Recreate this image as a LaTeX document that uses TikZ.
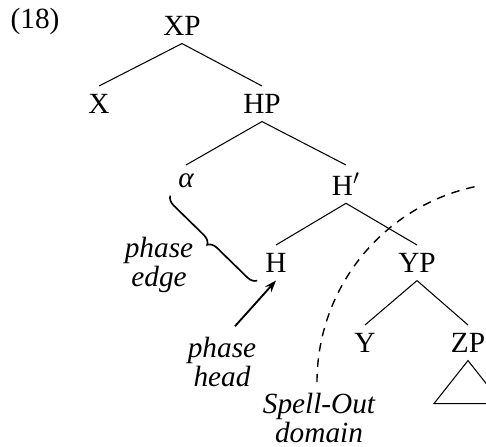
\documentclass[tikz,border=0pt]{standalone}
\usepackage{fontspec}
\setmainfont{Liberation Serif}
\usetikzlibrary{arrows.meta,decorations.pathreplacing}

\begin{document}
\begin{tikzpicture}[
  x=0.015cm, y=-0.015cm,
  every node/.style={inner sep=3.3pt, font=\fontsize{12.5}{12.5}\selectfont},
  cat/.style={anchor=north},
  note/.style={align=center, inner sep=1pt, font=\fontsize{12.5}{12.5}\selectfont\itshape},
  branch/.style={line width=0.45pt},
  arrow/.style={-{Stealth[length=5pt,width=3.6pt]}, line width=0.8pt},
  bracket/.style={decorate, decoration={brace, amplitude=4pt}, line width=0.7pt}
]
\clip (0,0) rectangle (486,447);

\node (num) at (35,21) {(18)};
\node[cat] (xp) at (182,8) {XP};
\node[cat] (x) at (99,86) {X};
\node[cat] (hp) at (262,86) {HP};
\node[cat] (alpha) at (186,165) {\itshape α};
\node[cat] (hbar) at (346,165) {H$'$};
\node[cat] (h) at (276,245) {H};
\node[cat] (yp) at (417,245) {YP};
\node[cat] (y) at (365,325) {Y};
\node[cat] (zp) at (468,325) {ZP};

\node[note] (phaseedge) at (159,265) {phase\\edge};
\node[note] (phasehead) at (222,362) {phase\\head};
\node[note] (spellout) at (319,418) {Spell-Out\\domain};

\draw[branch] (xp.south) -- (x.north);
\draw[branch] (xp.south) -- (hp.north);
\draw[branch] (hp.south) -- (alpha.north);
\draw[branch] (hp.south) -- (hbar.north);
\draw[branch] (hbar.south) -- (h.north);
\draw[branch] (hbar.south) -- (yp.north);
\draw[branch] (yp.south) -- (y.north);
\draw[branch] (yp.south) -- (zp.north);
\draw[branch] (zp.south) -- ++(-34,43) -- ++(68,0) -- cycle;

\draw[bracket] (h.south west) -- (alpha.south west);
\draw[arrow] ([shift={(13,-8)}]phasehead.north) -- (h.south);
\draw[line width=0.6pt, dash pattern=on 3.6pt off 3pt] ([shift={(-2,-8)}]spellout.north) arc[start angle=180, end angle=102, radius=3cm];
\end{tikzpicture}
\end{document}
